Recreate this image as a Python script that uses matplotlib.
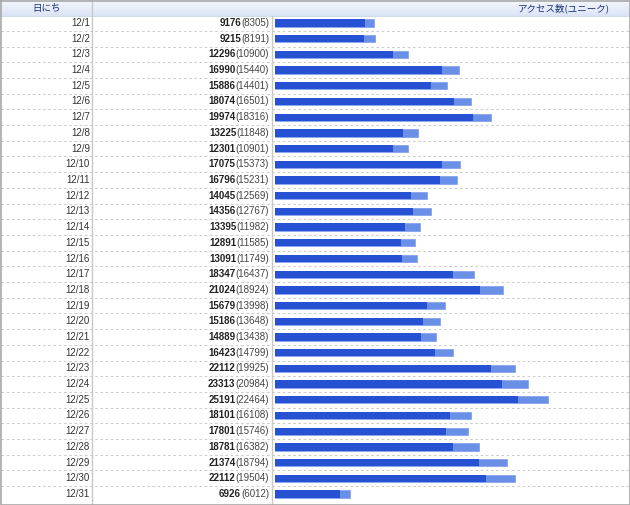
import numpy as np
import matplotlib.pyplot as plt
from matplotlib.colors import LinearSegmentedColormap

days = ["12/%d" % d for d in range(1, 32)]
total = [9176, 9215, 12296, 16990, 15886, 18074, 19974, 13225, 12301, 17075,
         16796, 14045, 14356, 13395, 12891, 13091, 18347, 21024, 15679, 15186,
         14889, 16423, 22112, 23313, 25191, 18101, 17801, 18781, 21374, 22112, 6926]
unique = [8305, 8191, 10900, 15440, 14401, 16501, 18316, 11848, 10901, 15373,
          15231, 12569, 12767, 11982, 11585, 11749, 16437, 18924, 13998, 13648,
          13438, 14799, 19925, 20984, 22464, 16108, 15746, 16382, 18794, 19504, 6012]
col_day = "日にち"
col_count = "アクセス数(ユニーク)"

W, H = 630, 505
row0, step, head = 23, 15.7, 16
n = len(days)

fig = plt.figure(figsize=(W / 100, H / 100), dpi=100)
bg = fig.add_axes([0, 0, 1, 1])
bg.set_xlim(0, W)
bg.set_ylim(H, 0)
bg.axis("off")

# header gradient
grad = np.linspace(0, 1, 32).reshape(-1, 1)
cm = LinearSegmentedColormap.from_list("hd", ["#f4f7fd", "#dbe4f6"])
bg.imshow(grad, cmap=cm, extent=[0, W, head, 0], aspect="auto", zorder=0)

hfont = dict(family=["Noto Sans CJK JP", "DejaVu Sans"], fontsize=6.8, color="#1c3474")
bg.text(47, 8.5, col_day, ha="center", va="center", **hfont)
bg.text(610, 8.5, col_count, ha="right", va="center", **hfont)

# grid lines
for i in range(n - 1):
    y = row0 + step * i + step / 2
    bg.plot([1, W - 1], [y, y], color="#cdcdcd", lw=0.75, ls=(0, (2.5, 2.5)), zorder=1)
bg.plot([0, W], [head, head], color="#d4dbe8", lw=0.8)
bg.plot([92, 92], [0, H], color="#c8c8c8", lw=1)
bg.plot([272, 272], [head, H], color="#c8c8c8", lw=1)
bg.plot([0.5, W - 0.5, W - 0.5, 0.5, 0.5], [0.5, 0.5, H - 0.5, H - 0.5, 0.5],
        color="#a8a8a8", lw=1.2)

# labels
fig.canvas.draw()
r = fig.canvas.get_renderer()
inv = bg.transData.inverted()
for i in range(n):
    y = row0 + step * i
    bg.text(90, y, days[i], ha="right", va="center", fontsize=7,
            family="Liberation Sans", color="#333333")
    t = bg.text(269, y, "(%d)" % unique[i], ha="right", va="center", fontsize=7,
                family="Liberation Sans", color="#444444")
    bb = t.get_window_extent(r)
    x0 = inv.transform((bb.x0, 0))[0]
    bg.text(x0, y, "%d" % total[i], ha="right", va="center", fontsize=7,
            family="Liberation Sans", weight="bold", color="#222222")

# bars
ax = fig.add_axes([275 / W, 0, (W - 275) / W, 1])
ax.patch.set_alpha(0)
ax.axis("off")
ax.set_xlim(0, 25191 * (W - 275) / 273)
ax.set_ylim((H - row0) / step, -row0 / step)
pos = np.arange(n)
ax.barh(pos, total, height=0.46, color="#6a8fe6", edgecolor="#7c9cea", lw=0.5)
ax.barh(pos, unique, height=0.46, color="#2651d2", lw=0)

fig.savefig("out.png", dpi=100)
